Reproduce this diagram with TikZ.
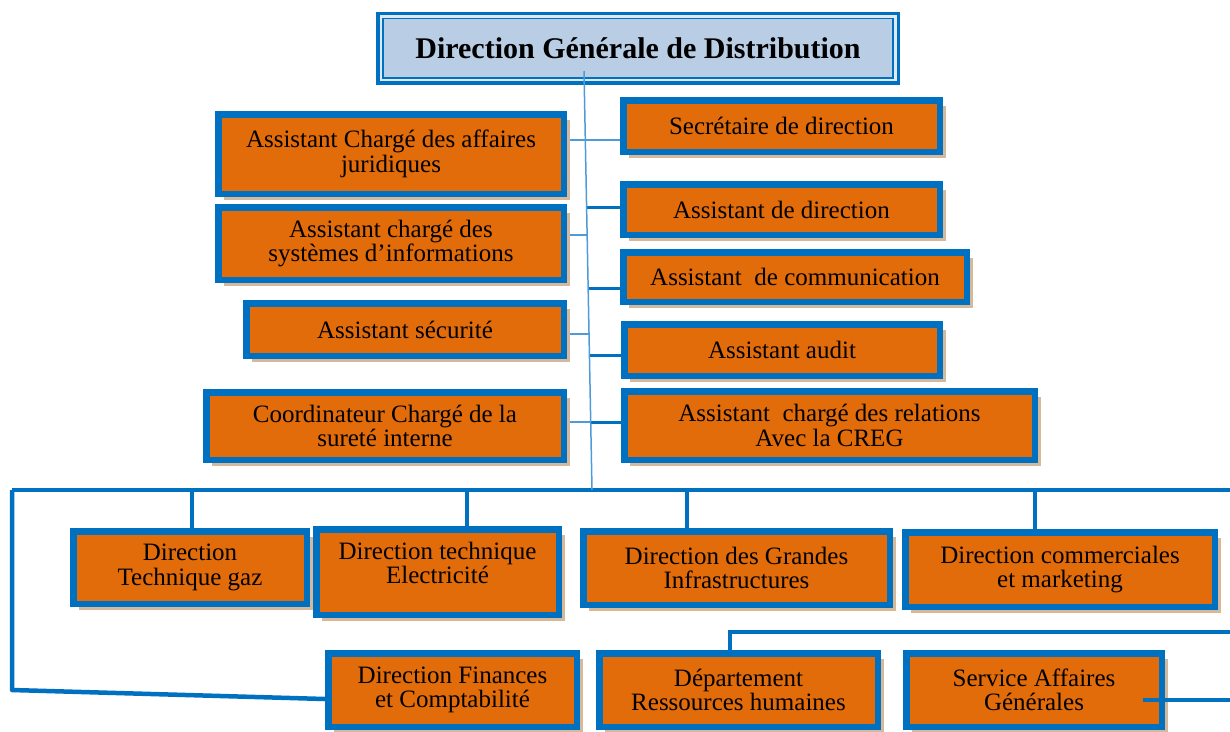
\documentclass[tikz,border=0pt]{standalone}
\usepackage{fontspec}
\setmainfont{Liberation Serif}
\usetikzlibrary{shadows,backgrounds}

\definecolor{boxorange}{HTML}{E26B0A}
\definecolor{boxblue}{HTML}{0070C0}
\definecolor{headfill}{HTML}{B9CDE5}
\definecolor{stemblue}{HTML}{4F9BD9}
\definecolor{shadowtan}{HTML}{D6B89A}

\begin{document}
\begin{tikzpicture}[
    x=1pt, y=-1pt,
    unit/.style={
        rectangle,
        draw=boxblue,
        line width=6.5pt,
        fill=boxorange,
        align=center,
        inner sep=0pt,
        font=\fontsize{25}{24.5}\selectfont,
        drop shadow={shadow xshift=6pt, shadow yshift=-6pt, fill=shadowtan, opacity=1}
    },
    head/.style={
        rectangle,
        draw=boxblue,
        line width=7pt,
        fill=headfill,
        inner sep=0pt,
        font=\fontsize{30}{30}\selectfont\bfseries
    },
    link/.style={stemblue, line width=1.5pt},
    branch/.style={boxblue, line width=3pt},
    bus/.style={boxblue, line width=4.5pt}
]
\useasboundingbox (0,0) rectangle (1230,731);

\node[head, minimum width=517pt, minimum height=66pt] (dgd) at (638,48) {Direction Générale de Distribution};
\draw[white!55!headfill, line width=2.5pt] ([xshift=4.75pt,yshift=-4.75pt]dgd.north west) rectangle ([xshift=-4.75pt,yshift=4.75pt]dgd.south east);
\draw[boxblue, line width=1.5pt] ([xshift=7pt,yshift=-7pt]dgd.north west) rectangle ([xshift=-7pt,yshift=7pt]dgd.south east);

\node[unit, minimum width=345.5pt, minimum height=79.5pt] (jur) at (391,154) {Assistant Chargé des affaires\\juridiques};
\node[unit, minimum width=345.5pt, minimum height=72.5pt] (sys) at (391,243.5) {Assistant chargé des\\systèmes d’informations};
\node[unit, minimum width=317.5pt, minimum height=52.5pt] (secu) at (405,329.5) {Assistant sécurité};
\node[unit, minimum width=357.5pt, minimum height=67.5pt] (surete) at (385,426) {Coordinateur Chargé de la\\sureté interne};

\node[unit, minimum width=316.5pt, minimum height=51.5pt] (secr) at (781.5,126) {Secrétaire de direction};
\node[unit, minimum width=316.5pt, minimum height=50.5pt] (asdir) at (781.5,209.5) {Assistant de direction};
\node[unit, minimum width=343.5pt, minimum height=49.5pt] (comm) at (795,277) {Assistant\ \ de communication};
\node[unit, minimum width=315.5pt, minimum height=51.5pt] (audit) at (782,350) {Assistant audit};
\node[unit, minimum width=410.5pt, minimum height=68.5pt] (creg) at (829.5,425.5) {Assistant\ \ chargé des relations\\Avec la CREG};

\node[unit, minimum width=233.5pt, minimum height=72.5pt] (gaz) at (190,567.5) {Direction\\Technique gaz};
\node[unit, minimum width=242.5pt, minimum height=85.5pt, text depth=18pt] (elec) at (437.5,572) {Direction technique\\Electricité};
\node[unit, minimum width=306.5pt, minimum height=73.5pt] (infra) at (736.5,568) {Direction des Grandes\\Infrastructures};
\node[unit, minimum width=309.5pt, minimum height=74.5pt] (mark) at (1060,569.5) {Direction commerciales\\et marketing};

\node[unit, minimum width=248.5pt, minimum height=73.5pt] (fin) at (452.5,690) {Direction Finances\\et Comptabilité};
\node[unit, minimum width=278.5pt, minimum height=73.5pt] (rh) at (738.5,690) {Département\\Ressources humaines};
\node[unit, minimum width=255.5pt, minimum height=73.5pt] (sag) at (1034,690) {Service Affaires\\Générales};

\coordinate (stemtop) at (584,71);
\coordinate (hub) at (592,490);
\coordinate (busW) at (12,490);
\coordinate (busE) at (1234,490);
\coordinate (bendW) at (12,690);
\coordinate (rhE) at (1234,632);
\coordinate (sagE) at (1234,700);

\foreach \ty/\tn in {140/a,207/b,235/c,288/d,334/e,355/f,422/g}
    \coordinate (tap\tn) at ({584+8*(\ty-71)/419},\ty);

\begin{pgfonlayer}{background}
\draw[link] (jur.east |- tapa) -- (secr.west |- tapa);
\draw[branch] (tapb) -- (asdir.west |- tapb);
\draw[link] (sys.east |- tapc) -- (tapc);
\draw[branch] (tapd) -- (comm.west |- tapd);
\draw[link] (secu.east |- tape) -- (tape);
\draw[branch] (tapf) -- (audit.west |- tapf);
\draw[link] (surete.east |- tapg) -- (tapg);
\draw[branch] (tapg) -- (creg.west |- tapg);

\draw[bus] (busW) -- (busE);
\foreach \nd/\sx in {gaz/192,elec/467,infra/687,mark/1035}
    \draw[bus] (\sx,490) -- (\nd.north -| \sx,0);
\draw[bus, line join=round] (busW) -- (bendW) -- ([yshift=-9pt]fin.west);
\draw[bus] (rhE) -| ([xshift=-8.5pt]rh.north);
\end{pgfonlayer}

\draw[link] (stemtop) -- (hub);
\draw[bus] ([xshift=-22pt,yshift=-10pt]sag.east) -- (sagE);

\end{tikzpicture}
\end{document}
